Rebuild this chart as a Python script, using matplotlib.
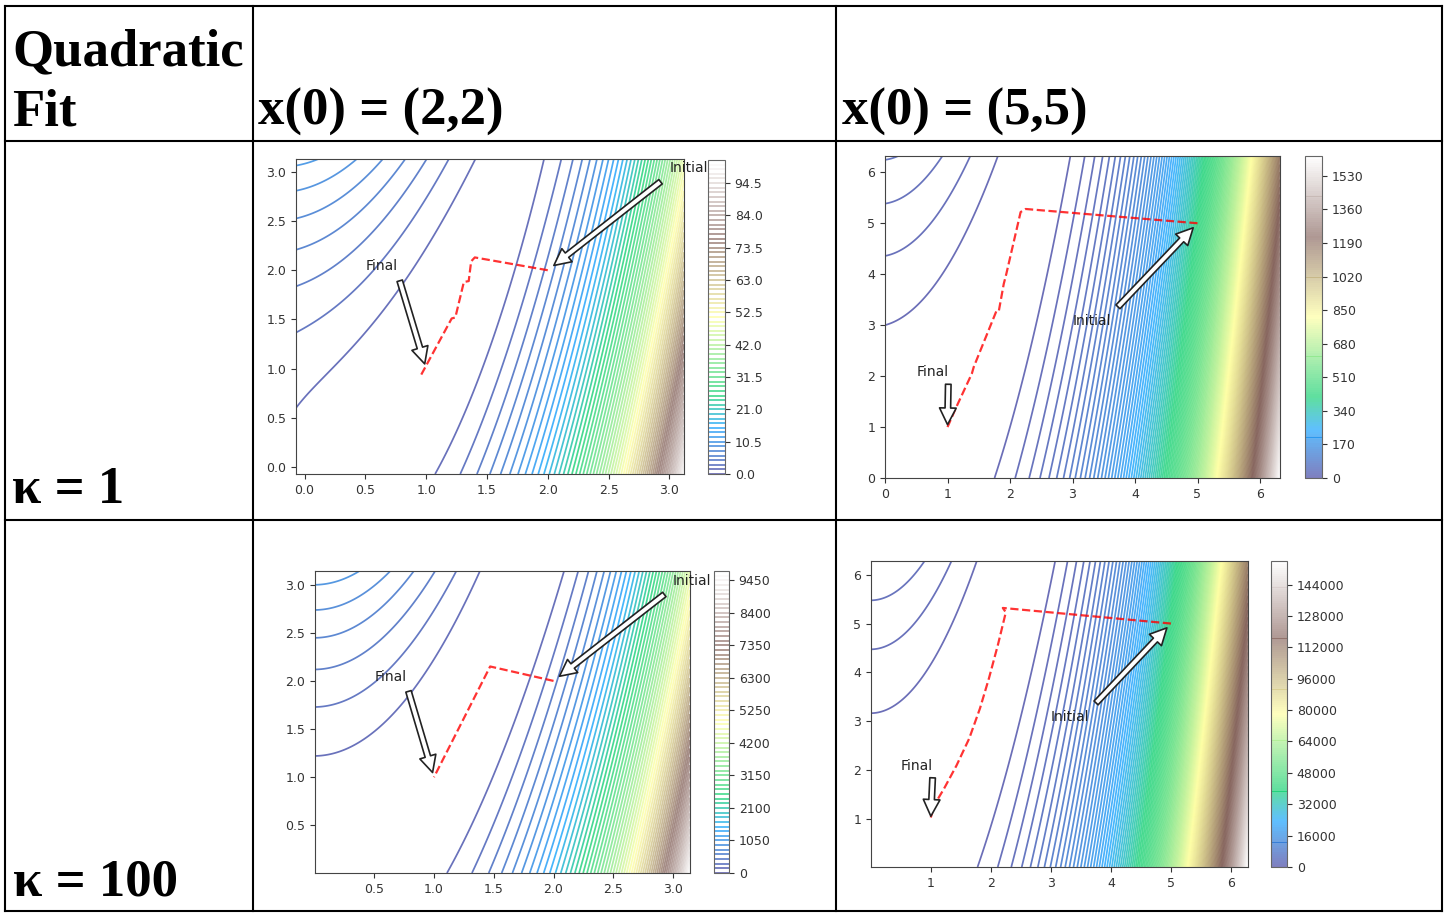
import numpy as np
import matplotlib
matplotlib.use('Agg')
import matplotlib.pyplot as plt

W, H = 1452, 916

# ── data ─────────────────────────────────────────────────────────────────────
KAPPAS = [1, 100]
START_LABELS = ['x(0) = (2,2)', 'x(0) = (5,5)']

# search paths (x, y), start -> end
path_k1_s22_x = [2.00, 1.40, 1.37, 1.35, 1.31, 1.24, 1.21, 0.96]
path_k1_s22_y = [2.00, 2.13, 2.09, 1.89, 1.88, 1.52, 1.51, 0.94]
path_k1_s55_x = [5.00, 2.25, 2.17, 1.94, 1.90, 1.82, 1.78, 1.42, 1.39, 1.14, 1.00]
path_k1_s55_y = [5.00, 5.28, 5.22, 4.00, 3.81, 3.27, 3.27, 2.18, 2.05, 1.39, 1.00]
path_k100_s22_x = [2.00, 1.47, 1.00]
path_k100_s22_y = [2.00, 2.15, 1.00]
path_k100_s55_x = [5.00, 2.20, 2.25, 2.12, 1.97, 1.82, 1.64, 1.43, 1.22, 1.07, 1.00]
path_k100_s55_y = [5.00, 5.32, 5.23, 4.57, 3.88, 3.26, 2.64, 2.09, 1.61, 1.30, 1.02]

# plotting domain per panel (xmin, xmax, ymin, ymax) and contour level step
DOMAINS = {
    (1, 0):   (-0.07, 3.12, -0.07, 3.13),
    (1, 1):   (0.0, 6.32, 0.0, 6.32),
    (100, 0): (0.005, np.pi, 0.005, np.pi),
    (100, 1): (0.005, 2 * np.pi, 0.005, 2 * np.pi),
}
LEVEL_STEP = {(1, 0): 1.5, (1, 1): 10, (100, 0): 150, (100, 1): 1000}
PATHS = {
    (1, 0): (path_k1_s22_x, path_k1_s22_y),
    (1, 1): (path_k1_s55_x, path_k1_s55_y),
    (100, 0): (path_k100_s22_x, path_k100_s22_y),
    (100, 1): (path_k100_s55_x, path_k100_s55_y),
}
TICKS = {
    (1, 0): np.arange(0, 3.01, 0.5),
    (1, 1): np.arange(0, 7),
    (100, 0): np.arange(0.5, 3.01, 0.5),
    (100, 1): np.arange(1, 7),
}

# panel boxes in pixels: (left, top, right, bottom) for axes and colorbar
AX_PX = {
    (1, 0):   ((296, 159, 684, 474), (708, 160, 725, 474)),
    (1, 1):   ((885, 156, 1280, 478), (1305, 156, 1322, 478)),
    (100, 0): ((315, 571, 690, 873), (714, 571, 729, 873)),
    (100, 1): ((871, 561, 1248, 867), (1271, 561, 1287, 867)),
}


def rect(px):
    l, t, r, b = px
    return [l / W, 1 - b / H, (r - l) / W, (b - t) / H]


fig = plt.figure(figsize=(W / 100, H / 100), dpi=100)

# ── table frame and labels ────────────────────────────────────────────────────
bg = fig.add_axes([0, 0, 1, 1])
bg.set_xlim(0, W)
bg.set_ylim(H, 0)
bg.axis('off')
for xv in [5, 253, 836, 1442]:
    bg.plot([xv, xv], [6, 911], color='black', lw=1.5, solid_capstyle='projecting')
for yv in [6, 141, 520, 911]:
    bg.plot([5, 1442], [yv, yv], color='black', lw=1.5, solid_capstyle='projecting')

tkw = dict(family='Liberation Serif', fontweight='bold', fontsize=38,
           va='baseline', ha='left')
bg.text(12, 65, 'Quadratic', **tkw)
bg.text(12, 125, 'Fit', **tkw)
bg.text(258, 125, START_LABELS[0], **tkw)
bg.text(842, 125, START_LABELS[1], **tkw)
bg.text(12, 503, 'κ = 1', **tkw)
bg.text(13, 896, 'κ = 100', **tkw)

# ── contour panels ────────────────────────────────────────────────────────────
for k in KAPPAS:
    for j in range(2):
        key = (k, j)
        ax_px, cb_px = AX_PX[key]
        ax = fig.add_axes(rect(ax_px))
        cax = fig.add_axes(rect(cb_px))

        x0, x1, y0, y1 = DOMAINS[key]
        X, Y = np.meshgrid(np.linspace(x0, x1, 600), np.linspace(y0, y1, 600))
        Z = (1 - X) ** 2 + k * (Y - X ** 2) ** 2
        step = LEVEL_STEP[key]
        levels = np.arange(0, Z.max() + step, step)

        cs = ax.contour(X, Y, Z, levels=levels, cmap='terrain', alpha=0.72,
                        linewidths=1.25)
        px, py = PATHS[key]
        ax.plot(px, py, 'r--', lw=1.6, alpha=0.8)
        ax.annotate('Initial', xy=(px[0], py[0]), xytext=(3, 3), fontsize=10,
                    color='#222222',
                    arrowprops=dict(facecolor='white', edgecolor='#222222',
                                    lw=1.2, shrink=0.05))
        ax.annotate('Final', xy=(1, 1), xytext=(0.5, 2), fontsize=10,
                    color='#222222',
                    arrowprops=dict(facecolor='white', edgecolor='#222222',
                                    lw=1.2, shrink=0.05))
        ax.set_xlim(x0, x1)
        ax.set_ylim(y0, y1)
        ax.set_xticks(TICKS[key])
        ax.set_yticks(TICKS[key])
        ax.tick_params(labelsize=9, colors='#333333')
        for s in ax.spines.values():
            s.set_color('#444444')

        cb = fig.colorbar(cs, cax=cax)
        cb.ax.tick_params(labelsize=9, colors='#333333')
        cb.outline.set_edgecolor('#666666')

fig.savefig('out.png', dpi=100)
